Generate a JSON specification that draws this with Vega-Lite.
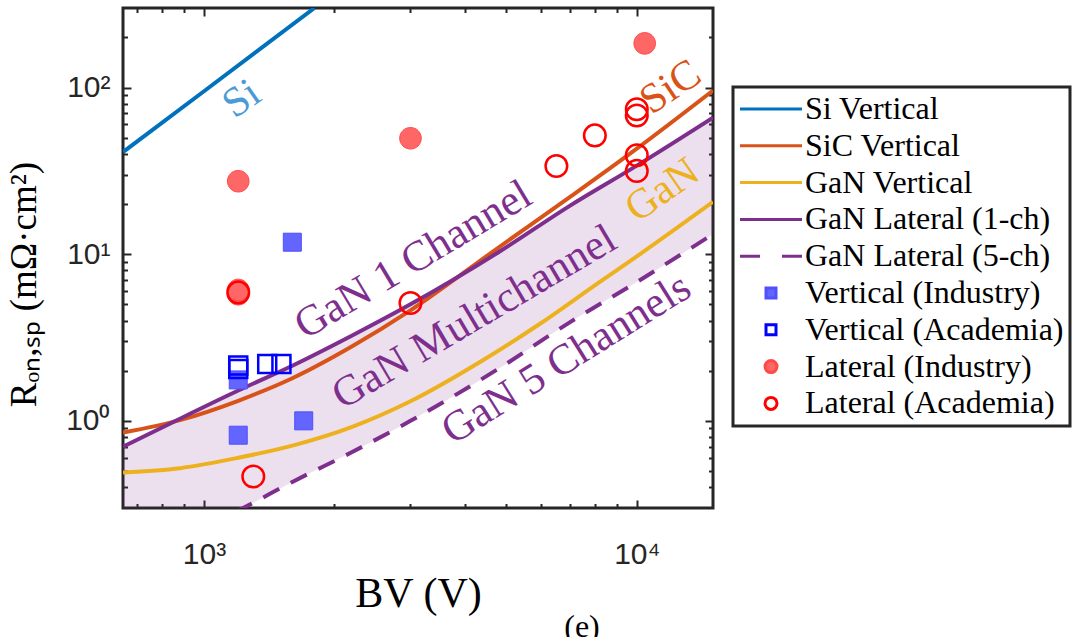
{
  "$schema": "https://vega.github.io/schema/vega-lite/v6.json",
  "width": 590,
  "height": 500,
  "autosize": {"type": "none"},
  "padding": {"left": 123, "top": 8, "right": 367, "bottom": 129},
  "background": "white",
  "title": {
    "text": "(e)",
    "orient": "bottom",
    "anchor": "middle",
    "frame": "group",
    "dx": 164,
    "offset": -2,
    "font": "Liberation Serif",
    "fontSize": 32,
    "fontWeight": "normal",
    "color": "#000000"
  },
  "config": {
    "view": {"stroke": "#262626", "strokeWidth": 3},
    "axis": {
      "domain": false,
      "grid": false,
      "ticks": true,
      "tickWidth": 2,
      "tickColor": "#262626",
      "tickOpacity": 1,
      "zindex": 1,
      "labelOverlap": false,
      "labelFlush": false,
      "labelFont": "Liberation Sans",
      "labelFontSize": 30,
      "labelColor": "#262626",
      "titleFont": "Liberation Serif",
      "titleFontWeight": "normal",
      "titleColor": "#000000"
    },
    "legend": {
      "orient": "none",
      "legendX": 610,
      "legendY": 79,
      "labelFont": "Liberation Serif",
      "labelFontSize": 32,
      "labelColor": "#000000",
      "symbolSize": 100,
      "symbolStrokeWidth": 3,
      "padding": 6,
      "rowPadding": 4.8,
      "symbolOffset": 16,
      "labelOffset": 18,
      "fillColor": "white",
      "strokeColor": "#262626",
      "labelLimit": 400
    }
  },
  "datasets": {
    "curves": [
      {"series": "Si Vertical", "bv": 650, "r": 41},
      {"series": "Si Vertical", "bv": 1000, "r": 95},
      {"series": "Si Vertical", "bv": 1800, "r": 300},
      {"series": "SiC Vertical", "bv": 650, "r": 0.85},
      {"series": "SiC Vertical", "bv": 880, "r": 1.01},
      {"series": "SiC Vertical", "bv": 1200, "r": 1.32},
      {"series": "SiC Vertical", "bv": 1600, "r": 1.8},
      {"series": "SiC Vertical", "bv": 2200, "r": 2.8},
      {"series": "SiC Vertical", "bv": 3000, "r": 4.6},
      {"series": "SiC Vertical", "bv": 4800, "r": 11},
      {"series": "SiC Vertical", "bv": 7000, "r": 22},
      {"series": "SiC Vertical", "bv": 10000, "r": 43},
      {"series": "SiC Vertical", "bv": 15000, "r": 96},
      {"series": "GaN Vertical", "bv": 650, "r": 0.49},
      {"series": "GaN Vertical", "bv": 880, "r": 0.52},
      {"series": "GaN Vertical", "bv": 1200, "r": 0.6},
      {"series": "GaN Vertical", "bv": 1600, "r": 0.71},
      {"series": "GaN Vertical", "bv": 2200, "r": 0.92},
      {"series": "GaN Vertical", "bv": 3000, "r": 1.31},
      {"series": "GaN Vertical", "bv": 4400, "r": 2.3},
      {"series": "GaN Vertical", "bv": 6000, "r": 3.85},
      {"series": "GaN Vertical", "bv": 8200, "r": 6.8},
      {"series": "GaN Vertical", "bv": 10000, "r": 9.7},
      {"series": "GaN Vertical", "bv": 15000, "r": 20.6},
      {"series": "GaN Lateral (1-ch)", "bv": 650, "r": 0.7},
      {"series": "GaN Lateral (1-ch)", "bv": 880, "r": 1.03},
      {"series": "GaN Lateral (1-ch)", "bv": 1200, "r": 1.52},
      {"series": "GaN Lateral (1-ch)", "bv": 1600, "r": 2.14},
      {"series": "GaN Lateral (1-ch)", "bv": 2200, "r": 3.25},
      {"series": "GaN Lateral (1-ch)", "bv": 3000, "r": 5.0},
      {"series": "GaN Lateral (1-ch)", "bv": 4800, "r": 10.3},
      {"series": "GaN Lateral (1-ch)", "bv": 7000, "r": 19.5},
      {"series": "GaN Lateral (1-ch)", "bv": 10000, "r": 34},
      {"series": "GaN Lateral (1-ch)", "bv": 15000, "r": 66},
      {"series": "GaN Lateral (5-ch)", "bv": 650, "r": 0.14},
      {"series": "GaN Lateral (5-ch)", "bv": 880, "r": 0.2},
      {"series": "GaN Lateral (5-ch)", "bv": 1200, "r": 0.29},
      {"series": "GaN Lateral (5-ch)", "bv": 1600, "r": 0.43},
      {"series": "GaN Lateral (5-ch)", "bv": 2200, "r": 0.65},
      {"series": "GaN Lateral (5-ch)", "bv": 3000, "r": 1.0},
      {"series": "GaN Lateral (5-ch)", "bv": 4800, "r": 2.06},
      {"series": "GaN Lateral (5-ch)", "bv": 7000, "r": 3.9},
      {"series": "GaN Lateral (5-ch)", "bv": 10000, "r": 6.8},
      {"series": "GaN Lateral (5-ch)", "bv": 15000, "r": 13.2}
    ],
    "devices": [
      {"series": "Vertical (Industry)", "bv": 1600, "r": 11.8},
      {"series": "Vertical (Industry)", "bv": 1200, "r": 1.76},
      {"series": "Vertical (Industry)", "bv": 1200, "r": 0.82},
      {"series": "Vertical (Industry)", "bv": 1700, "r": 1.0},
      {"series": "Vertical (Academia)", "bv": 1200, "r": 2.05},
      {"series": "Vertical (Academia)", "bv": 1200, "r": 2.15},
      {"series": "Vertical (Academia)", "bv": 1400, "r": 2.19},
      {"series": "Vertical (Academia)", "bv": 1510, "r": 2.19},
      {"series": "Lateral (Industry)", "bv": 1200, "r": 27.4},
      {"series": "Lateral (Industry)", "bv": 1200, "r": 5.75},
      {"series": "Lateral (Industry)", "bv": 1200, "r": 6.1},
      {"series": "Lateral (Industry)", "bv": 3000, "r": 49.6},
      {"series": "Lateral (Industry)", "bv": 10430, "r": 184},
      {"series": "Lateral (Academia)", "bv": 1200, "r": 5.9},
      {"series": "Lateral (Academia)", "bv": 1300, "r": 0.464},
      {"series": "Lateral (Academia)", "bv": 3000, "r": 5.1},
      {"series": "Lateral (Academia)", "bv": 6520, "r": 33.8},
      {"series": "Lateral (Academia)", "bv": 8000, "r": 51.6},
      {"series": "Lateral (Academia)", "bv": 10000, "r": 68},
      {"series": "Lateral (Academia)", "bv": 10000, "r": 74},
      {"series": "Lateral (Academia)", "bv": 10000, "r": 39.2},
      {"series": "Lateral (Academia)", "bv": 10000, "r": 31.6}
    ]
  },
  "resolve": {"axis": {"x": "independent", "y": "independent"}},
  "layer": [
    {
      "data": {"name": "curves"},
      "transform": [
        {"filter": "datum.series == 'GaN Lateral (1-ch)' || datum.series == 'GaN Lateral (5-ch)'"},
        {"pivot": "series", "value": "r", "groupby": ["bv"]}
      ],
      "mark": {"type": "area", "color": "#7E2F8E", "opacity": 0.15, "clip": true, "interpolate": "monotone"},
      "encoding": {
        "x": {
          "field": "bv",
          "type": "quantitative",
          "scale": {"type": "log", "domain": [650, 15000], "nice": false},
          "axis": {
            "orient": "bottom",
            "values": [1000, 10000],
            "labelExpr": "datum.value == 1000 ? '10³' : '10⁴'",
            "offset": -8,
            "tickSize": 8,
            "labelPadding": 31,
            "title": "BV (V)",
            "titleFontSize": 42,
            "titlePadding": 4
          }
        },
        "y": {
          "field": "GaN Lateral (1-ch)",
          "type": "quantitative",
          "scale": {"type": "log", "domain": [0.3, 300], "nice": false},
          "axis": {
            "orient": "left",
            "values": [1, 10, 100],
            "labelExpr": "datum.value == 1 ? '10⁰' : datum.value == 10 ? '10¹' : '10²'",
            "offset": -8,
            "tickSize": 8,
            "labelPadding": 13,
            "title": "Rₒₙ,ₛₚ (mΩ·cm²)",
            "titleFontSize": 37,
            "titlePadding": 22,
            "titleY": 276
          }
        },
        "y2": {"field": "GaN Lateral (5-ch)"}
      }
    },
    {
      "data": {"name": "curves"},
      "transform": [{"filter": "datum.series != 'GaN Lateral (5-ch)'"}],
      "mark": {"type": "line", "clip": true, "strokeWidth": 4, "interpolate": "monotone"},
      "encoding": {
        "x": {
          "field": "bv",
          "type": "quantitative",
          "axis": {
            "orient": "bottom",
            "values": [700, 800, 900, 2000, 3000, 4000, 5000, 6000, 7000, 8000, 9000],
            "labels": false,
            "offset": -4.5,
            "tickSize": 4.5,
            "title": null
          }
        },
        "y": {
          "field": "r",
          "type": "quantitative",
          "axis": {
            "orient": "left",
            "values": [0.4, 0.5, 0.6, 0.7, 0.8, 0.9, 2, 3, 4, 5, 6, 7, 8, 9, 20, 30, 40, 50, 60, 70, 80, 90, 200],
            "labels": false,
            "offset": -4.5,
            "tickSize": 4.5,
            "title": null
          }
        },
        "stroke": {
          "field": "series",
          "type": "nominal",
          "title": null,
          "scale": {
            "domain": ["Si Vertical", "SiC Vertical", "GaN Vertical", "GaN Lateral (1-ch)", "GaN Lateral (5-ch)", "Vertical (Industry)", "Vertical (Academia)", "Lateral (Industry)", "Lateral (Academia)"],
            "range": ["#0072BD", "#D95319", "#EDB120", "#7E2F8E", "#7E2F8E", "#5050FF", "#0000FF", "#FF4A4A", "#FF0000"]
          },
          "legend": {"encoding": {"legend": {"strokeWidth": {"value": 3}}}}
        }
      }
    },
    {
      "data": {"name": "curves"},
      "transform": [{"filter": "datum.series == 'GaN Lateral (5-ch)'"}],
      "mark": {"type": "line", "clip": true, "strokeWidth": 4, "strokeDash": [18, 13], "interpolate": "monotone"},
      "encoding": {
        "x": {
          "field": "bv",
          "type": "quantitative",
          "axis": {
            "orient": "top",
            "values": [1000, 10000],
            "labels": false,
            "offset": -8,
            "tickSize": 8,
            "title": null
          }
        },
        "y": {
          "field": "r",
          "type": "quantitative",
          "axis": {
            "orient": "right",
            "values": [1, 10, 100],
            "labels": false,
            "offset": -8,
            "tickSize": 8,
            "title": null
          }
        },
        "stroke": {"field": "series", "type": "nominal", "title": null}
      }
    },
    {
      "data": {"name": "devices"},
      "transform": [{"filter": "datum.series == 'Vertical (Industry)' || datum.series == 'Lateral (Industry)'"}],
      "mark": {"type": "point", "size": 324, "opacity": 1, "strokeWidth": 1, "clip": true},
      "encoding": {
        "x": {
          "field": "bv",
          "type": "quantitative",
          "axis": {
            "orient": "top",
            "values": [700, 800, 900, 2000, 3000, 4000, 5000, 6000, 7000, 8000, 9000],
            "labels": false,
            "offset": -4.5,
            "tickSize": 4.5,
            "title": null
          }
        },
        "y": {
          "field": "r",
          "type": "quantitative",
          "axis": {
            "orient": "right",
            "values": [0.4, 0.5, 0.6, 0.7, 0.8, 0.9, 2, 3, 4, 5, 6, 7, 8, 9, 20, 30, 40, 50, 60, 70, 80, 90, 200],
            "labels": false,
            "offset": -4.5,
            "tickSize": 4.5,
            "title": null
          }
        },
        "stroke": {"field": "series", "type": "nominal", "title": null},
        "fill": {
          "field": "series",
          "type": "nominal",
          "title": null,
          "scale": {
            "domain": ["Si Vertical", "SiC Vertical", "GaN Vertical", "GaN Lateral (1-ch)", "GaN Lateral (5-ch)", "Vertical (Industry)", "Vertical (Academia)", "Lateral (Industry)", "Lateral (Academia)"],
            "range": ["transparent", "transparent", "transparent", "transparent", "transparent", "#6464FF", "transparent", "#FF6666", "transparent"]
          }
        },
        "shape": {
          "field": "series",
          "type": "nominal",
          "title": null,
          "scale": {
            "domain": ["Si Vertical", "SiC Vertical", "GaN Vertical", "GaN Lateral (1-ch)", "GaN Lateral (5-ch)", "Vertical (Industry)", "Vertical (Academia)", "Lateral (Industry)", "Lateral (Academia)"],
            "range": ["M-6.2,0H6.2", "M-6.2,0H6.2", "M-6.2,0H6.2", "M-6.2,0H6.2", "M-6.2,0H-2.2M2.2,0H6.2", "M-1,-1H1V1H-1Z", "M-1,-1H1V1H-1Z", "M-1.2,0A1.2,1.2,0,1,0,1.2,0A1.2,1.2,0,1,0,-1.2,0Z", "M-1.2,0A1.2,1.2,0,1,0,1.2,0A1.2,1.2,0,1,0,-1.2,0Z"]
          }
        }
      }
    },
    {
      "data": {"name": "devices"},
      "transform": [{"filter": "datum.series == 'Vertical (Academia)' || datum.series == 'Lateral (Academia)'"}],
      "mark": {"type": "point", "size": 324, "opacity": 1, "strokeWidth": 2.5, "clip": true},
      "encoding": {
        "x": {"field": "bv", "type": "quantitative", "axis": null},
        "y": {"field": "r", "type": "quantitative", "axis": null},
        "stroke": {"field": "series", "type": "nominal", "title": null},
        "fill": {"field": "series", "type": "nominal", "title": null},
        "shape": {"field": "series", "type": "nominal", "title": null}
      }
    },
    {
      "data": {"values": [{"bv": 1270, "r": 74, "label": "Si"}]},
      "mark": {"type": "text", "angle": 325, "font": "Liberation Serif", "fontSize": 42, "color": "#4A9BD6", "align": "center", "baseline": "alphabetic"},
      "encoding": {
        "x": {"field": "bv", "type": "quantitative", "axis": null},
        "y": {"field": "r", "type": "quantitative", "axis": null},
        "text": {"field": "label"}
      }
    },
    {
      "data": {"values": [{"bv": 12430, "r": 87, "label": "SiC"}]},
      "mark": {"type": "text", "angle": 326, "font": "Liberation Serif", "fontSize": 42, "color": "#D95319", "align": "center", "baseline": "alphabetic"},
      "encoding": {
        "x": {"field": "bv", "type": "quantitative", "axis": null},
        "y": {"field": "r", "type": "quantitative", "axis": null},
        "text": {"field": "label"}
      }
    },
    {
      "data": {"values": [{"bv": 11910, "r": 21, "label": "GaN"}]},
      "mark": {"type": "text", "angle": 325, "font": "Liberation Serif", "fontSize": 42, "color": "#EDB120", "align": "center", "baseline": "alphabetic"},
      "encoding": {
        "x": {"field": "bv", "type": "quantitative", "axis": null},
        "y": {"field": "r", "type": "quantitative", "axis": null},
        "text": {"field": "label"}
      }
    },
    {
      "data": {"values": [{"bv": 3154, "r": 7.91, "label": "GaN 1 Channel"}]},
      "mark": {"type": "text", "angle": 329, "font": "Liberation Serif", "fontSize": 43, "color": "#7E2F8E", "align": "center", "baseline": "alphabetic"},
      "encoding": {
        "x": {"field": "bv", "type": "quantitative", "axis": null},
        "y": {"field": "r", "type": "quantitative", "axis": null},
        "text": {"field": "label"}
      }
    },
    {
      "data": {"values": [{"bv": 4365, "r": 3.58, "label": "GaN Multichannel"}]},
      "mark": {"type": "text", "angle": 329.5, "font": "Liberation Serif", "fontSize": 43, "color": "#7E2F8E", "align": "center", "baseline": "alphabetic"},
      "encoding": {
        "x": {"field": "bv", "type": "quantitative", "axis": null},
        "y": {"field": "r", "type": "quantitative", "axis": null},
        "text": {"field": "label"}
      }
    },
    {
      "data": {"values": [{"bv": 7128, "r": 2.02, "label": "GaN 5 Channels"}]},
      "mark": {"type": "text", "angle": 328, "font": "Liberation Serif", "fontSize": 43, "color": "#7E2F8E", "align": "center", "baseline": "alphabetic"},
      "encoding": {
        "x": {"field": "bv", "type": "quantitative", "axis": null},
        "y": {"field": "r", "type": "quantitative", "axis": null},
        "text": {"field": "label"}
      }
    }
  ]
}
